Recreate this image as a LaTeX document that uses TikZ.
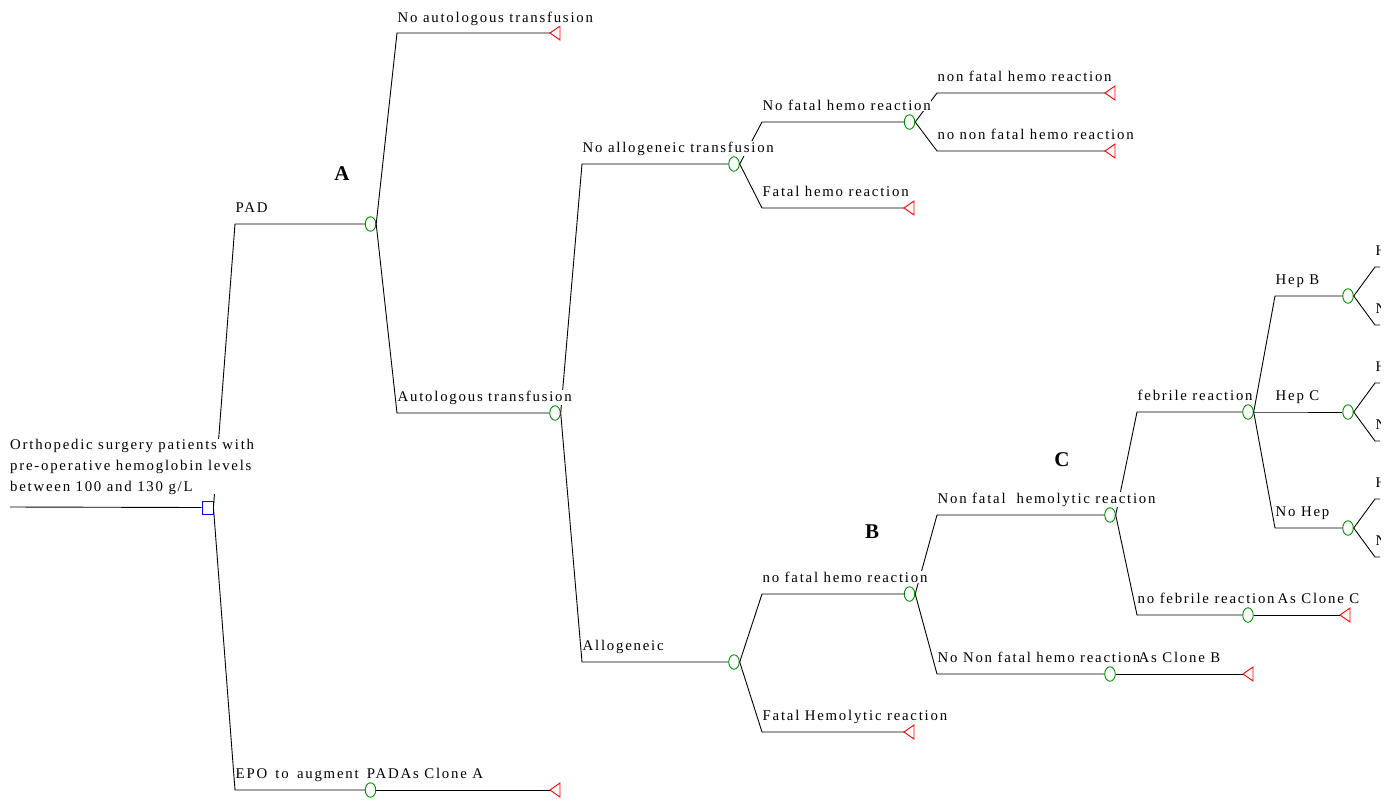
\documentclass[tikz,border=0pt]{standalone}
\usepackage{fontspec}
\setmainfont{Liberation Serif}[LetterSpace=12]
\usetikzlibrary{shapes.geometric}
\definecolor{cgreen}{RGB}{0,140,0}
\definecolor{cred}{RGB}{255,0,0}
\definecolor{cblue}{RGB}{0,0,255}
\newcommand\termtri[3]{\coordinate (#1) at (#2,#3); \draw[termline] (#1) -- ++(10,-7) -- ++(0,14) -- cycle;}
\begin{document}
\begin{tikzpicture}[x=1pt,y=-1pt,
  br/.style={line width=0.9pt},
  termline/.style={draw=cred,line width=0.9pt},
  chance/.style={ellipse,draw=cgreen,fill=white,line width=0.9pt,minimum width=10.5pt,minimum height=14.5pt,inner sep=0},
  decis/.style={rectangle,draw=cblue,fill=white,line width=0.9pt,minimum width=11pt,minimum height=13pt,inner sep=0},
  lbl/.style={anchor=base west,fill=white,inner xsep=0.5pt,inner ysep=0.5pt,font=\fontsize{14.8}{21}\selectfont},
  clonelbl/.style={lbl,fill=none},
  big/.style={font=\fontsize{21}{24}\selectfont\bfseries,inner sep=0}]
\useasboundingbox (0,0) rectangle (1392,801);
\begin{scope}
\clip (0,0) rectangle (1380,801);
% shapes
\coordinate (start) at (10,507);
\node[decis] (D) at (207.5,507.5) {};
\node[chance] (cA) at (370.5,224) {};
\node[chance] (cE) at (370.5,790) {};
\termtri{tE}{550}{790}
\termtri{tNA}{550}{33}
\node[chance] (cAT) at (555,413) {};
\node[chance] (cNAl) at (734,164) {};
\node[chance] (cAl) at (734,662) {};
\node[chance] (cNF) at (909.5,122) {};
\termtri{tF}{904}{208}
\termtri{tNF1}{1105}{93}
\termtri{tNF2}{1105}{151}
\node[chance] (cB) at (909.5,594) {};
\termtri{tFH}{904}{732}
\node[chance] (cC) at (1110,515) {};
\node[chance] (cNN) at (1110,674) {};
\termtri{tNN}{1243}{674}
\node[chance] (cFeb) at (1248,412) {};
\node[chance] (cNFeb) at (1248,615) {};
\termtri{tNFeb}{1340}{615}
\node[chance] (cHB) at (1348,296) {};
\node[chance] (cHC) at (1348,412) {};
\node[chance] (cNH) at (1348,528) {};
% corners
\coordinate (kPAD) at (235,224);
\coordinate (kEPO) at (235,790);
\coordinate (kNA) at (397,33);
\coordinate (kAT) at (397,413);
\coordinate (kNAl) at (582,164);
\coordinate (kAl) at (582,662);
\coordinate (kNF) at (762,122);
\coordinate (kF) at (762,208);
\coordinate (kNF1) at (937,93);
\coordinate (kNF2) at (937,151);
\coordinate (kB) at (762,594);
\coordinate (kFH) at (762,732);
\coordinate (kNFH) at (937,515);
\coordinate (kNN) at (937,674);
\coordinate (kFeb) at (1137,412);
\coordinate (kNFeb) at (1137,615);
\coordinate (kHB) at (1275,296);
\coordinate (kHC) at (1275,412);
\coordinate (kNH) at (1275,528);
\coordinate (kHB1) at (1375,267); \coordinate (eHB1) at (1400,267);
\coordinate (kHB2) at (1375,325); \coordinate (eHB2) at (1400,325);
\coordinate (kHC1) at (1375,383); \coordinate (eHC1) at (1400,383);
\coordinate (kHC2) at (1375,441); \coordinate (eHC2) at (1400,441);
\coordinate (kNH1) at (1375,499); \coordinate (eNH1) at (1400,499);
\coordinate (kNH2) at (1375,557); \coordinate (eNH2) at (1400,557);
% connectors
\draw[br] (start) -- (D.west);
\draw[br] (D.east) -- (kPAD) -- (cA.west);
\draw[br] (D.east) -- (kEPO) -- (cE.west);
\draw[br] (cE.east) -- (tE);
\draw[br] (cA.east) -- (kNA) -- (tNA);
\draw[br] (cA.east) -- (kAT) -- (cAT.west);
\draw[br] (cAT.east) -- (kNAl) -- (cNAl.west);
\draw[br] (cAT.east) -- (kAl) -- (cAl.west);
\draw[br] (cNAl.east) -- (kNF) -- (cNF.west);
\draw[br] (cNAl.east) -- (kF) -- (tF);
\draw[br] (cNF.east) -- (kNF1) -- (tNF1);
\draw[br] (cNF.east) -- (kNF2) -- (tNF2);
\draw[br] (cAl.east) -- (kB) -- (cB.west);
\draw[br] (cAl.east) -- (kFH) -- (tFH);
\draw[br] (cB.east) -- (kNFH) -- (cC.west);
\draw[br] (cB.east) -- (kNN) -- (cNN.west);
\draw[br] (cNN.east) -- (tNN);
\draw[br] (cC.east) -- (kFeb) -- (cFeb.west);
\draw[br] (cC.east) -- (kNFeb) -- (cNFeb.west);
\draw[br] (cNFeb.east) -- (tNFeb);
\draw[br] (cFeb.east) -- (kHB) -- (cHB.west);
\draw[br] (cFeb.east) -- (kHC) -- (cHC.west);
\draw[br] (cFeb.east) -- (kNH) -- (cNH.west);
\draw[br] (cHB.east) -- (kHB1) -- (eHB1);
\draw[br] (cHB.east) -- (kHB2) -- (eHB2);
\draw[br] (cHC.east) -- (kHC1) -- (eHC1);
\draw[br] (cHC.east) -- (kHC2) -- (eHC2);
\draw[br] (cNH.east) -- (kNH1) -- (eNH1);
\draw[br] (cNH.east) -- (kNH2) -- (eNH2);
% labels
\node[anchor=west,fill=white,inner sep=0,align=left,font=\fontsize{14.8}{21}\selectfont] (root) at (10,466.5)
  {Orthopedic surgery patients with\\pre-operative hemoglobin levels\\between 100 and 130 g/L};
\node[lbl] (lNA) at (397,22) {No autologous transfusion};
\node[lbl] (lPAD) at (235,212) {PAD};
\node[lbl] (lAT) at (397,401) {Autologous transfusion};
\node[lbl] (lEPO) at (235,778) {\makebox[163pt][s]{EPO to augment PAD}};
\node[clonelbl] (lCA) at (400,778) {As Clone A};
\node[lbl] (lNAl) at (582,152) {No allogeneic transfusion};
\node[lbl] (lAl) at (582,650) {Allogeneic};
\node[lbl] (lNF) at (762,110) {No fatal hemo reaction};
\node[lbl] (lF) at (762,196) {Fatal hemo reaction};
\node[lbl] (lNF1) at (937,81) {non fatal hemo reaction};
\node[lbl] (lNF2) at (937,139) {no non fatal hemo reaction};
\node[lbl] (lB) at (762,582) {no fatal hemo reaction};
\node[lbl] (lFH) at (762,720) {Fatal Hemolytic reaction};
\node[lbl] (lNFH) at (937,503) {Non fatal~ hemolytic reaction};
\node[lbl] (lNN) at (937,662) {No Non fatal hemo reaction};
\node[clonelbl] (lCB) at (1138,662) {As Clone B};
\node[lbl] (lFeb) at (1137,400) {febrile reaction};
\node[lbl] (lNFeb) at (1137,603) {no febrile reaction};
\node[clonelbl] (lCC) at (1277,603) {As Clone C};
\node[lbl] (lHB) at (1275,284) {Hep B};
\node[lbl] (lHC) at (1275,400) {Hep C};
\node[lbl] (lNH) at (1275,516) {No Hep};
\node[lbl] (pHB1) at (1375,255) {H};
\node[lbl] (pHB2) at (1375,313) {N};
\node[lbl] (pHC1) at (1375,371) {H};
\node[lbl] (pHC2) at (1375,429) {N};
\node[lbl] (pNH1) at (1375,487) {H};
\node[lbl] (pNH2) at (1375,545) {N};
\node[big] (LA) at (342,174) {A};
\node[big] (LB) at (872,532) {B};
\node[big] (LC) at (1062,460) {C};
\end{scope}
\end{tikzpicture}
\end{document}
